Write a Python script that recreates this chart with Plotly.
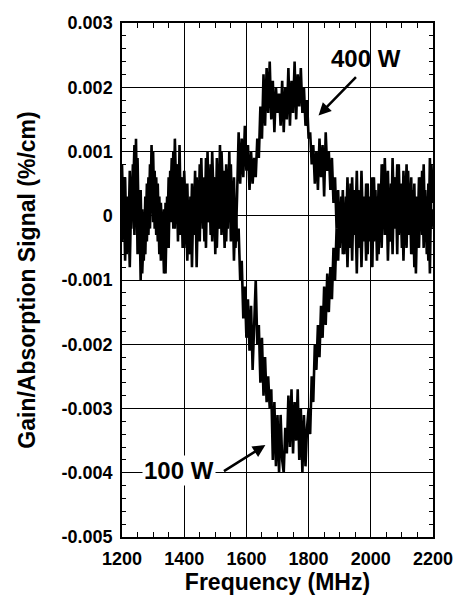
import plotly.graph_objects as go

freq_mhz = [
    1200, 1205, 1210, 1215, 1220, 1225, 1230, 1235, 1240, 1245, 1250, 1255, 1260, 1265, 1270, 1275, 1280, 1285, 1290, 1295,
    1300, 1305, 1310, 1315, 1320, 1325, 1330, 1335, 1340, 1345, 1350, 1355, 1360, 1365, 1370, 1375, 1380, 1385, 1390, 1395,
    1400, 1405, 1410, 1415, 1420, 1425, 1430, 1435, 1440, 1445, 1450, 1455, 1460, 1465, 1470, 1475, 1480, 1485, 1490, 1495,
    1500, 1505, 1510, 1515, 1520, 1525, 1530, 1535, 1540, 1545, 1550, 1555, 1560, 1565, 1570, 1575, 1580, 1585, 1590, 1595,
    1600, 1605, 1610, 1615, 1620, 1625, 1630, 1635, 1640, 1645, 1650, 1655, 1660, 1665, 1670, 1675, 1680, 1685, 1690, 1695,
    1700, 1705, 1710, 1715, 1720, 1725, 1730, 1735, 1740, 1745, 1750, 1755, 1760, 1765, 1770, 1775, 1780, 1785, 1790, 1795,
    1800, 1805, 1810, 1815, 1820, 1825, 1830, 1835, 1840, 1845, 1850, 1855, 1860, 1865, 1870, 1875, 1880, 1885, 1890, 1895,
    1900, 1905, 1910, 1915, 1920, 1925, 1930, 1935, 1940, 1945, 1950, 1955, 1960, 1965, 1970, 1975, 1980, 1985, 1990, 1995,
    2000, 2005, 2010, 2015, 2020, 2025, 2030, 2035, 2040, 2045, 2050, 2055, 2060, 2065, 2070, 2075, 2080, 2085, 2090, 2095,
    2100, 2105, 2110, 2115, 2120, 2125, 2130, 2135, 2140, 2145, 2150, 2155, 2160, 2165, 2170, 2175, 2180, 2185, 2190, 2195,
    2200,
]

signal_400w = [
    0.0008, -0.0002, 0.0006, -0.0006, 0.0001, -0.0008, 0.0004, 0.0002, 0.0011, -0.0001,
    0.0009, -0.0005, 0.0004, -0.0009, -0.0002, -0.0006, 0.0005, -0.0003, 0.0008, 0.0003,
    0.0010, -0.0002, 0.0006, -0.0004, 0.0003, -0.0007, -0.0001, -0.0009, 0.0002, -0.0005,
    0.0006, 0.0001, 0.0009, -0.0002, 0.0012, 0.0002, 0.0008, -0.0003, 0.0006, -0.0005,
    0.0007, 0.0000, 0.0005, -0.0006, 0.0003, -0.0008, 0.0004, -0.0003, 0.0006, -0.0002,
    0.0008, 0.0001, 0.0005, -0.0004, 0.0009, -0.0001, 0.0007, -0.0003, 0.0010, 0.0002,
    0.0006, -0.0005, 0.0004, -0.0002, 0.0010, 0.0003, 0.0007, -0.0004, 0.0005, -0.0001,
    0.0008, -0.0003, 0.0006, -0.0005, 0.0003, 0.0013, 0.0005, 0.0012, 0.0006, 0.0014,
    0.0007, 0.0011, 0.0004, 0.0010, 0.0005, 0.0009, 0.0006, 0.0012, 0.0009, 0.0017,
    0.0012, 0.0022, 0.0014, 0.0023, 0.0016, 0.0024, 0.0015, 0.0021, 0.0013, 0.0020,
    0.0016, 0.0019, 0.0014, 0.0021, 0.0013, 0.0020, 0.0015, 0.0023, 0.0014, 0.0021,
    0.0016, 0.0024, 0.0015, 0.0022, 0.0017, 0.0023, 0.0016, 0.0020, 0.0014, 0.0018,
    0.0012, 0.0013, 0.0008, 0.0011, 0.0005, 0.0010, 0.0004, 0.0012, 0.0006, 0.0011,
    0.0003, 0.0013, 0.0007, 0.0010, 0.0004, 0.0009, 0.0002, 0.0006, -0.0002, 0.0004,
    -0.0005, 0.0003, -0.0006, 0.0002, -0.0004, 0.0006, -0.0003, 0.0005, -0.0007, 0.0004,
    -0.0002, 0.0007, -0.0005, 0.0003, -0.0008, 0.0002, -0.0004, 0.0005, -0.0006, 0.0003,
    -0.0002, 0.0006, -0.0004, 0.0004, -0.0007, 0.0005, -0.0003, 0.0008, -0.0001, 0.0009,
    0.0000, 0.0007, -0.0004, 0.0005, -0.0006, 0.0006, -0.0002, 0.0008, -0.0003, 0.0004,
    -0.0005, 0.0007, -0.0001, 0.0008, -0.0003, 0.0005, -0.0006, 0.0004, -0.0008, 0.0003,
    -0.0004, 0.0006, -0.0002, 0.0007, -0.0005, 0.0004, -0.0006, 0.0005, -0.0009, 0.0008,
    0.0002,
]

signal_100w = [
    -0.0004, 0.0006, -0.0007, 0.0003, -0.0005, 0.0007, -0.0002, 0.0008, -0.0003, 0.0012,
    -0.0006, 0.0004, -0.0010, 0.0001, -0.0007, 0.0003, -0.0004, 0.0006, -0.0002, 0.0011,
    -0.0001, 0.0007, -0.0003, 0.0005, -0.0006, 0.0002, -0.0004, 0.0001, -0.0009, 0.0003,
    -0.0005, 0.0007, -0.0001, 0.0010, -0.0002, 0.0008, -0.0004, 0.0011, -0.0003, 0.0006,
    -0.0005, 0.0004, -0.0007, 0.0002, -0.0006, 0.0005, -0.0003, 0.0007, -0.0008, 0.0003,
    -0.0004, 0.0009, -0.0002, 0.0006, -0.0005, 0.0010, -0.0001, 0.0008, -0.0004, 0.0006,
    -0.0006, 0.0009, -0.0002, 0.0011, -0.0003, 0.0005, -0.0005, 0.0008, -0.0002, 0.0010,
    -0.0004, 0.0004, -0.0007, 0.0002, -0.0004, -0.0002, -0.0010, -0.0007, -0.0016, -0.0011,
    -0.0019, -0.0013, -0.0021, -0.0014, -0.0024, -0.0015, -0.0010, -0.0020, -0.0017, -0.0026,
    -0.0019, -0.0028, -0.0022, -0.0029, -0.0025, -0.0030, -0.0027, -0.0038, -0.0029, -0.0039,
    -0.0031, -0.0040, -0.0031, -0.0038, -0.0040, -0.0033, -0.0037, -0.0028, -0.0036, -0.0027,
    -0.0037, -0.0029, -0.0035, -0.0027, -0.0038, -0.0030, -0.0040, -0.0031, -0.0039, -0.0033,
    -0.0030, -0.0034, -0.0025, -0.0029, -0.0020, -0.0024, -0.0017, -0.0022, -0.0014, -0.0019,
    -0.0011, -0.0017, -0.0009, -0.0015, -0.0008, -0.0013, -0.0005, -0.0010, -0.0002, -0.0007,
    0.0001, -0.0004, 0.0004, -0.0006, 0.0003, -0.0008, 0.0001, -0.0005, 0.0006, -0.0003,
    0.0002, -0.0009, 0.0004, -0.0004, 0.0007, -0.0002, 0.0003, -0.0007, 0.0005, -0.0004,
    0.0002, -0.0008, 0.0006, -0.0002, 0.0003, -0.0006, 0.0004, -0.0005, 0.0008, -0.0003,
    0.0005, -0.0007, 0.0002, -0.0004, 0.0009, -0.0001, 0.0006, -0.0006, 0.0008, -0.0002,
    0.0005, -0.0007, 0.0003, -0.0005, 0.0007, -0.0003, 0.0006, -0.0006, 0.0005, -0.0009,
    0.0002, -0.0005, 0.0006, -0.0003, 0.0008, -0.0004, 0.0003, -0.0007, 0.0009, -0.0002,
    0.0001,
]

x_ticks = [1200, 1400, 1600, 1800, 2000, 2200]
y_ticks = [0.003, 0.002, 0.001, 0, -0.001, -0.002, -0.003, -0.004, -0.005]
y_tick_labels = ["0.003", "0.002", "0.001", "0", "-0.001", "-0.002", "-0.003", "-0.004", "-0.005"]

FONT = "Liberation Sans, Arial, Helvetica, sans-serif"

fig = go.Figure()
fig.add_trace(go.Scatter(x=freq_mhz, y=signal_400w, mode="lines", name="400 W",
                         line=dict(color="black", width=2.6)))
fig.add_trace(go.Scatter(x=freq_mhz, y=signal_100w, mode="lines", name="100 W",
                         line=dict(color="black", width=2.6)))

axis_common = dict(
    showline=True, linecolor="black", linewidth=1.5, mirror="allticks",
    showgrid=True, gridcolor="black", gridwidth=1, zeroline=False,
    ticks="inside", ticklen=5, tickcolor="black", tickwidth=1,
    automargin=False,
)

fig.update_xaxes(
    range=[1200, 2200], tickvals=x_ticks,
    tickfont=dict(family=FONT, size=18, color="black", weight="bold"),
    title=dict(text="Frequency (MHz)", font=dict(family=FONT, size=23, color="black", weight="bold"), standoff=2),
    minor=dict(ticks="inside", dtick=50, ticklen=5, tickcolor="black", showgrid=False),
    ticklabelstandoff=5,
    **axis_common,
)
fig.update_yaxes(
    range=[-0.005, 0.003], tickvals=y_ticks, ticktext=y_tick_labels,
    tickfont=dict(family=FONT, size=18, color="black", weight="bold"),
    title=dict(text="Gain/Absorption Signal (%/cm)", font=dict(family=FONT, size=23, color="black", weight="bold"), standoff=20),
    minor=dict(ticks="inside", dtick=0.0002, ticklen=4, tickcolor="black", showgrid=False),
    ticklabelstandoff=4,
    **axis_common,
)

fig.add_annotation(x=1986, y=0.00245, text="400 W", showarrow=False,
                   font=dict(family=FONT, size=24, color="black", weight="bold"))
fig.add_annotation(x=1832, y=0.00156, ax=1957, ay=0.00218, axref="x", ayref="y",
                   text="", showarrow=True, arrowhead=2, arrowsize=1, arrowwidth=2.5, arrowcolor="black")
fig.add_annotation(x=1382, y=-0.00396, text="100 W", showarrow=False, bgcolor="white",
                   font=dict(family=FONT, size=24, color="black", weight="bold"))
fig.add_annotation(x=1661, y=-0.00357, ax=1523, ay=-0.00399, axref="x", ayref="y",
                   text="", showarrow=True, arrowhead=2, arrowsize=1, arrowwidth=2.5, arrowcolor="black")

fig.update_layout(
    width=455, height=600,
    margin=dict(l=122, r=22, t=23, b=63),
    paper_bgcolor="white", plot_bgcolor="white",
    showlegend=False,
)

# remove the default 8 px page margin so the 455x600 figure fills the window exactly
fig.write_html("out.html", config={"displayModeBar": False},
               post_script="document.body.style.margin='0';document.body.style.overflow='hidden';")
